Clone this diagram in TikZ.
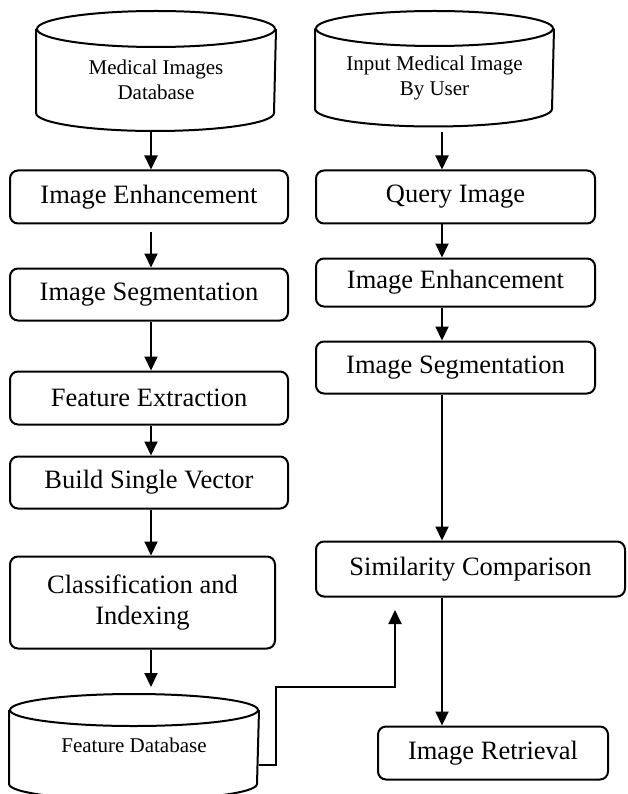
\documentclass[tikz,border=0pt]{standalone}
\usepackage{fontspec}
\setmainfont{Liberation Serif}
\usetikzlibrary{arrows.meta}

\begin{document}
\begin{tikzpicture}[x=1pt,y=-1pt,line width=2pt,
  box/.style={draw,rounded corners=8pt,align=center,inner sep=0pt,font=\fontsize{26.5}{31.5}\selectfont},
  dbtext/.style={align=center,inner sep=0pt,font=\fontsize{21}{25}\selectfont},
  arrow/.style={-{Triangle[length=14pt,width=13pt]}}]

\useasboundingbox (0,0) rectangle (627,794);

\coordinate (lcol) at (151,0);
\coordinate (rcol) at (442,0);

\node[dbtext,minimum width=238pt,minimum height=64pt] (meddb) at (156,80) {Medical Images\\Database};
\draw ([yshift=18pt]meddb.north west) -- (meddb.south west) arc[start angle=180,end angle=360,x radius=119pt,y radius=18pt] -- ([yshift=18pt]meddb.north east);
\draw ([yshift=18pt]meddb.north) ellipse[x radius=119pt,y radius=18pt];

\node[box,minimum width=278pt,minimum height=53pt] (imgenh) at (149,197) {Image Enhancement};
\node[box,minimum width=278pt,minimum height=52pt] (imgseg) at (149,294.5) {Image Segmentation};
\node[box,minimum width=278pt,minimum height=53pt] (featext) at (149,398) {Feature Extraction};
\node[box,minimum width=278pt,minimum height=52pt] (build) at (149,482.5) {Build Single Vector};
\node[box,minimum width=265pt,minimum height=92pt] (classif) at (142.5,602.5) {Classification and\\Indexing};

\node[dbtext,minimum width=248pt,minimum height=36pt] (featdb) at (134,745) {Feature Database};
\draw ([yshift=16pt]featdb.north west) -- ([yshift=-20pt]featdb.south west) arc[start angle=180,end angle=360,x radius=124pt,y radius=16pt] -- ([yshift=16pt]featdb.north east);
\draw ([yshift=16pt]featdb.north) ellipse[x radius=124pt,y radius=16pt];

\node[dbtext,minimum width=237pt,minimum height=61pt] (inputdb) at (434.5,77.5) {Input Medical Image\\By User};
\draw ([yshift=17.5pt]inputdb.north west) -- (inputdb.south west) arc[start angle=180,end angle=360,x radius=118.5pt,y radius=17.5pt] -- ([yshift=17.5pt]inputdb.north east);
\draw ([yshift=17.5pt]inputdb.north) ellipse[x radius=118.5pt,y radius=17.5pt];

\node[box,minimum width=279pt,minimum height=53pt] (query) at (455.5,197) {Query Image};
\node[box,minimum width=279pt,minimum height=48pt] (qenh) at (455.5,282.5) {Image Enhancement};
\node[box,minimum width=279pt,minimum height=52pt] (qseg) at (455.5,367.5) {Image Segmentation};
\node[box,minimum width=309pt,minimum height=55pt] (simcomp) at (470.5,569) {Similarity Comparison};
\node[box,minimum width=230pt,minimum height=53pt] (retrieval) at (493,753) {Image Retrieval};

\draw[arrow] ([yshift=-18pt]meddb.south -| lcol) -- (imgenh.north -| lcol);
\draw[arrow] ([yshift=-7pt]imgenh.south -| lcol) -- (imgseg.north -| lcol);
\draw[arrow] (imgseg.south -| lcol) -- (featext.north -| lcol);
\draw[arrow] (featext.south -| lcol) -- (build.north -| lcol);
\draw[arrow] (build.south -| lcol) -- (classif.north -| lcol);
\draw[arrow] (classif.south -| lcol) -- ([yshift=39pt]featdb.north -| lcol);

\draw[arrow] ([yshift=-23pt]inputdb.south -| rcol) -- (query.north -| rcol);
\draw[arrow] (query.south -| rcol) -- (qenh.north -| rcol);
\draw[arrow] (qenh.south -| rcol) -- (qseg.north -| rcol);
\draw[arrow] (qseg.south -| rcol) -- (simcomp.north -| rcol);
\draw[arrow] (simcomp.south -| rcol) -- (retrieval.north -| rcol);

\coordinate (fbturn) at (395,687);
\coordinate (fbtip) at (395,610);
\draw[arrow] ([yshift=-20pt]featdb.east) -- ++(17,0) |- (fbturn) -- (fbtip);

\end{tikzpicture}
\end{document}
